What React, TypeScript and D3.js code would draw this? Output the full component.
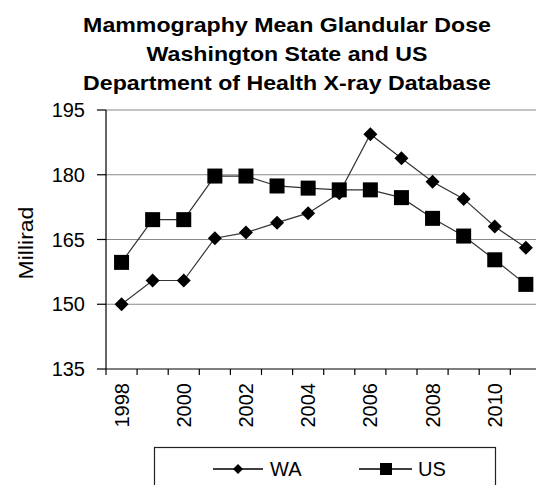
import React from 'react';
import * as d3 from 'd3';

const years = ['1998', '1999', '2000', '2001', '2002', '2003', '2004', '2005', '2006', '2007', '2008', '2009', '2010', '2011'];
const waValues = [150, 155.5, 155.5, 165.3, 166.6, 168.9, 171.1, 175.7, 189.4, 183.8, 178.4, 174.4, 168, 163.1];
const usValues = [159.7, 169.6, 169.6, 179.7, 179.7, 177.4, 176.9, 176.5, 176.5, 174.7, 169.9, 165.8, 160.3, 154.6];
const yTicks = [135, 150, 165, 180, 195];
const xLabels = ['1998', '2000', '2002', '2004', '2006', '2008', '2010'];
const titleLines = ['Mammography Mean Glandular Dose', 'Washington State and US', 'Department of Health X-ray Database'];

const W = 536;
const H = 485;
const left = 106;
const top = 110;
const bottom = 369;
const band = 31.1;

const font = 'Arial, "Liberation Sans", sans-serif';

export default function App() {
  const x = d3.scaleBand<string>().domain(years).range([left, left + band * years.length]).padding(0);
  const y = d3.scaleLinear().domain([135, 195]).range([bottom, top]);
  const cx = (yr: string) => (x(yr) ?? 0) + x.bandwidth() / 2;

  const line = d3.line<number>()
    .x((_, i) => cx(years[i]))
    .y(d => y(d));

  const diamond = (s: number) => `M0,${-s} L${s},0 L0,${s} L${-s},0 Z`;

  return (
    <svg width={W} height={H} style={{ position: 'absolute', left: 0, top: 0, background: '#fff' }} fontFamily={font}>
      {/* title, a little wider than the plain font */}
      {titleLines.map((t, i) => (
        <text key={t} transform={`translate(287,${32 + i * 29}) scale(1.13,1)`} textAnchor="middle" fontSize={20.5} fontWeight="bold" fill="#000">{t}</text>
      ))}

      {/* gridlines */}
      {yTicks.filter(v => v > 135).map(v => (
        <line key={v} x1={left} x2={W} y1={y(v)} y2={y(v)} stroke="#888" strokeWidth={1.2} />
      ))}

      {/* y axis */}
      <line x1={left} x2={left} y1={top} y2={bottom} stroke="#000" strokeWidth={1.2} />
      {yTicks.map(v => (
        <g key={v}>
          <line x1={left - 9} x2={left} y1={y(v)} y2={y(v)} stroke="#000" strokeWidth={1.2} />
          <text x={85} y={y(v)} dy="0.35em" textAnchor="end" fontSize={20} fill="#000">{v}</text>
        </g>
      ))}
      <text transform={`translate(33,243) rotate(-90) scale(1.15,1)`} textAnchor="middle" fontSize={20} fill="#000">Millirad</text>

      {/* x axis */}
      <line x1={left} x2={W} y1={bottom} y2={bottom} stroke="#000" strokeWidth={1.2} />
      {d3.range(years.length + 1).map(k => (
        <line key={k} x1={left + k * band} x2={left + k * band} y1={bottom} y2={bottom + 6} stroke="#000" strokeWidth={1.2} />
      ))}
      {xLabels.map(yr => (
        <text key={yr} transform={`translate(${cx(yr)},383) rotate(-90)`} dy="0.35em" textAnchor="end" fontSize={20} fill="#000">{yr}</text>
      ))}

      {/* series */}
      <path d={line(usValues) ?? ''} fill="none" stroke="#333" strokeWidth={1.2} />
      <path d={line(waValues) ?? ''} fill="none" stroke="#333" strokeWidth={1.2} />
      {usValues.map((v, i) => (
        <rect key={'us' + i} x={cx(years[i]) - 7.5} y={y(v) - 7.5} width={15} height={15} fill="#000" />
      ))}
      {waValues.map((v, i) => (
        <path key={'wa' + i} transform={`translate(${cx(years[i])},${y(v)})`} d={diamond(7)} fill="#000" />
      ))}

      {/* legend */}
      <rect x={154.5} y={447.5} width={341} height={60} fill="#fff" stroke="#222" strokeWidth={1.2} />
      <line x1={213} x2={263} y1={469} y2={469} stroke="#000" strokeWidth={1.5} />
      <path transform="translate(238,469)" d={diamond(5)} fill="#000" />
      <text x={270} y={469} dy="0.35em" fontSize={20} fill="#000">WA</text>
      <line x1={359} x2={412} y1={469} y2={469} stroke="#000" strokeWidth={1.5} />
      <rect x={380} y={463} width={12} height={12} fill="#000" />
      <text x={418} y={469} dy="0.35em" fontSize={20} fill="#000">US</text>
    </svg>
  );
}
